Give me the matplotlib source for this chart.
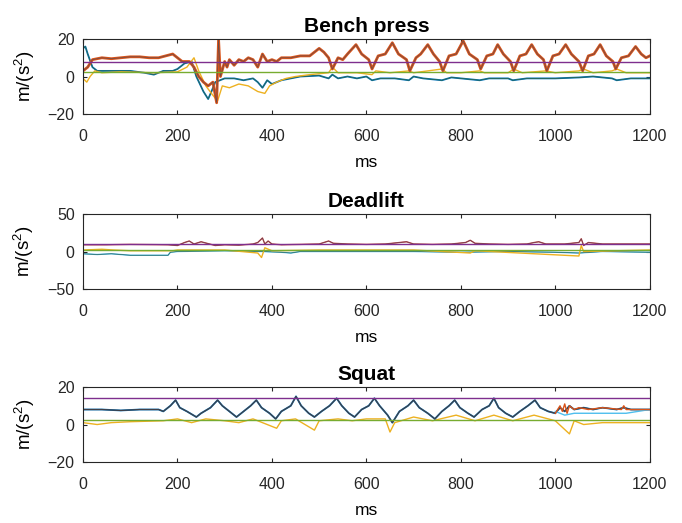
import matplotlib
matplotlib.use("Agg")
import matplotlib.pyplot as plt

plt.rcParams['font.family'] = ['Liberation Sans', 'DejaVu Sans']
plt.rcParams['mathtext.fontset'] = 'custom'
plt.rcParams['mathtext.rm'] = 'Liberation Sans'

# MATLAB default line colours
BLUE = (0.0, 0.447, 0.741)
ORANGE = (0.85, 0.325, 0.098)
YELLOW = (0.929, 0.694, 0.125)
PURPLE = (0.494, 0.184, 0.556)
GREEN = (0.466, 0.674, 0.188)
LIGHTBLUE = (0.301, 0.745, 0.933)

xticks = [0, 200, 400, 600, 800, 1000, 1200]

# ---- Bench press ----
bench_orange_t = [0, 10, 20, 40, 60, 80, 100, 120, 140, 160, 175, 190, 200, 210, 225, 235, 245, 255, 265,
                  275, 283, 287, 291, 300, 305, 310, 320, 330, 340, 350, 360, 370, 380, 390, 400, 410, 420,
                  440, 460, 480, 500, 510, 520, 528, 540, 550, 560, 578, 590, 605, 612, 625, 640, 655, 668,
                  685, 692, 705, 715, 730, 742, 755, 762, 775, 790, 805, 818, 835, 842, 855, 868, 878, 890,
                  905, 912, 925, 938, 950, 962, 975, 982, 995, 1008, 1022, 1034, 1050, 1058, 1070, 1082,
                  1095, 1108, 1122, 1128, 1140, 1155, 1170, 1182, 1192, 1200]
bench_orange = [3, 5, 9, 10, 9.5, 10, 10.5, 10.5, 10, 10, 11, 12, 10, 8, 8, 5, 0, -3, -5,
                -3, -14, 20, 0, 8, 5, 9, 6, 9, 8, 10, 9, 5, 12, 8, 9, 8, 10,
                10, 11, 11, 15, 13, 10, 4, 10, 9, 12, 17, 12, 9, 4, 11, 12, 18, 12,
                9, 3, 10, 12, 17, 12, 8, 3, 11, 12, 19, 12, 9, 4, 11, 12, 17, 12,
                8, 3, 11, 12, 17, 12, 9, 3, 11, 12, 17, 12, 8, 3, 11, 12,
                17, 11, 8, 4, 10, 11, 16, 12, 10, 11]

bench_blue_t = [0, 5, 10, 20, 30, 60, 100, 130, 150, 170, 190, 200, 215, 230, 240, 255, 265, 272, 280,
                290, 300, 320, 340, 360, 370, 380, 390, 400, 420, 440, 460, 500, 520, 528, 540, 560, 580,
                600, 612, 630, 660, 690, 700, 720, 760, 780, 800, 840, 860, 900, 910, 940, 980, 1000,
                1050, 1080, 1120, 1130, 1160, 1200]
bench_blue = [15, 16, 12, 5, 3, 3, 3, 2, 1, 3, 3, 4, 7, 8, 0, -8, -12, -8, -3,
              -2, -1, -1, -2, -1, -3, -6, -2, -4, -2, -1, 0, 0.5, -1, 1, -1, 0, -1,
              0, -2, -1, -1, -2, 0, -1, -2, -0.5, -1, -2, -1, -1, -2, -1, -1, -1,
              -0.5, 0, -1, -2, -1, -1]

bench_yellow_t = [0, 8, 15, 25, 40, 80, 150, 200, 220, 235, 245, 260, 275, 285, 295, 310, 330, 350, 370,
                  385, 395, 410, 430, 450, 480, 520, 528, 540, 580, 612, 620, 650, 690, 700, 760, 770, 800,
                  840, 850, 900, 912, 930, 980, 1000, 1050, 1060, 1080, 1120, 1130, 1150, 1200]
bench_yellow = [-1, -3, 0, 3, 2, 2.5, 2, 2.5, 5, 10, 3, -5, -10, -13, -5, -6, -4, -5, -8,
                -9, -5, -3, -1, 0, 1, 2, 5, 2, 2, 1, 3, 2, 3, 2, 4, 2, 2,
                3, 2, 2, 4, 2, 3, 2, 3, 4, 2, 3, 4, 2, 2]
bench_levels = [7.5, 2.5]

# ---- Deadlift ----
dead_red_t = [0, 50, 100, 180, 200, 215, 225, 235, 250, 262, 280, 300, 330, 360, 370, 380, 385, 392, 400,
              420, 460, 500, 520, 530, 560, 600, 640, 670, 685, 700, 740, 780, 810, 820, 830, 860, 900,
              940, 955, 965, 980, 1020, 1050, 1055, 1060, 1070, 1085, 1100, 1150, 1200]
dead_red = [9, 9, 9.5, 9, 8, 12, 14, 10, 13, 11, 8, 9, 8.5, 10, 12, 18, 10, 14, 10,
            9, 9.5, 10, 14, 11, 10, 9.5, 10, 12, 13, 10, 9.5, 10, 12, 15, 11, 10, 9.5,
            10, 12, 13, 10, 10, 12, 17, 8, 12, 11, 10, 10, 10]

dead_blue_t = [0, 30, 60, 100, 180, 185, 200, 300, 380, 420, 440, 460, 600, 700, 800, 900, 1000, 1050,
               1100, 1200]
dead_blue = [-3, -4, -3, -5, -5, -1, 0, 1, 0, -1, -2, 0, 0, 0, -1, 0, -1, -2,
             0, -1]

dead_yellow_t = [0, 40, 65, 100, 190, 200, 300, 370, 378, 385, 400, 500, 700, 820, 830, 1050, 1055, 1060,
                 1200]
dead_yellow = [2, 3, 2, 1, 1, 2, 2, -2, -8, 5, 1, 2, 2, -2, 1, -6, 8, 0,
               2]
dead_levels = [10.5, 2]

# ---- Squat ----
squat_main_t = [0, 40, 80, 120, 160, 170, 185, 196, 205, 220, 240, 250, 270, 285, 295, 310, 325, 340,
                355, 367, 378, 395, 408, 420, 440, 451, 462, 478, 490, 505, 522, 537, 548, 563, 575, 590,
                605, 617, 628, 645, 655, 670, 688, 700, 712, 730, 745, 760, 775, 787, 798, 815, 828, 845,
                860, 870, 880, 895, 910, 925, 942, 957, 968, 985, 1000, 1010, 1020, 1030, 1040, 1060,
                1080, 1100, 1130, 1145, 1160, 1200]
squat_main = [8, 8, 7.5, 8, 8, 7, 10, 13, 9, 7, 4, 6, 9, 13, 10, 7, 4, 7,
              10, 13, 9, 6, 3, 7, 10, 15, 10, 6, 4, 7, 10, 14, 10, 6, 4, 8,
              10, 14, 10, 5, 1, 7, 10, 13, 9, 6, 3, 7, 10, 13, 9, 6, 4, 8,
              10, 14, 9, 6, 4, 7, 10, 13, 9, 7, 6, 9, 7, 10, 8, 9,
              8, 9, 8, 9, 8, 8]

squat_orange_t = [1000, 1010, 1015, 1020, 1025, 1030, 1040, 1050, 1070, 1100, 1140, 1145, 1150, 1200]
squat_orange = [6, 10, 7, 11, 6, 10, 8, 9, 8, 9, 8, 10, 8, 8]

squat_cyan_t = [1000, 1020, 1040, 1100, 1150, 1200]
squat_cyan = [7, 5, 6, 6, 6, 8]

squat_yellow_t = [0, 30, 60, 100, 170, 200, 230, 260, 300, 330, 360, 410, 420, 450, 490, 500, 540, 570,
                  600, 640, 650, 660, 700, 740, 790, 830, 870, 910, 955, 1000, 1030, 1040, 1060, 1100,
                  1200]
squat_yellow = [1, 0, 1, 1.5, 2, 3, 1, 3, 2, 1, 3, -2, 2, 3, -3, 2, 3, 2,
                3, 3, -4, 1, 4, 2, 5, 2, 5, 2, 5, 2, -5, 2, 0, 1,
                1]
squat_levels = [14, 2.2]


def style_axes(ax, title, ylim, yticks):
    ax.set_xlim(0, 1200)
    ax.set_ylim(ylim)
    ax.set_xticks(xticks)
    ax.set_yticks(yticks)
    ax.set_title(title, fontsize=15, fontweight='bold', pad=5)
    ax.set_xlabel('ms', fontsize=12.5, labelpad=8)
    ax.set_ylabel('m/(s$^2$)', fontsize=13.5, labelpad=8)
    ax.tick_params(direction='in', top=True, right=True, length=3,
                   labelsize=11.5, colors=(0.15, 0.15, 0.15), pad=11)
    ax.tick_params(axis='y', pad=6)
    for s in ax.spines.values():
        s.set_color((0.15, 0.15, 0.15))
        s.set_linewidth(0.8)


fig = plt.figure(figsize=(6.82, 5.23), dpi=100)
ax1 = fig.add_axes([0.1217, 0.782, 0.831, 0.1434])
ax2 = fig.add_axes([0.1217, 0.4474, 0.831, 0.1434])
ax3 = fig.add_axes([0.1217, 0.1166, 0.831, 0.1434])

# bench press
ax1.plot(bench_blue_t, bench_blue, color=BLUE, lw=1.3)
ax1.plot(bench_blue_t, bench_blue, color=(0.2, 0.4, 0.25), lw=0.5)
ax1.plot(bench_yellow_t, bench_yellow, color=YELLOW, lw=1.0)
ax1.plot(bench_orange_t, bench_orange, color=ORANGE, lw=2.0)
ax1.plot(bench_orange_t, bench_orange, color=(0.4, 0.3, 0.3), lw=0.5)
ax1.axhline(bench_levels[0], color=PURPLE, lw=1.0)
ax1.axhline(bench_levels[1], color=GREEN, lw=1.0)
style_axes(ax1, 'Bench press', (-20, 20), [-20, 0, 20])

# deadlift
ax2.plot(dead_blue_t, dead_blue, color=LIGHTBLUE, lw=1.0)
ax2.plot(dead_blue_t, dead_blue, color=(0.2, 0.4, 0.35), lw=0.5)
ax2.plot(dead_yellow_t, dead_yellow, color=YELLOW, lw=1.0)
ax2.plot(dead_red_t, dead_red, color=(0.8, 0.3, 0.3), lw=1.0)
ax2.plot(dead_red_t, dead_red, color=(0.4, 0.25, 0.3), lw=0.5)
ax2.axhline(dead_levels[0], color=PURPLE, lw=1.0)
ax2.axhline(dead_levels[1], color=GREEN, lw=1.0)
style_axes(ax2, 'Deadlift', (-50, 50), [-50, 0, 50])

# squat
ax3.plot(squat_yellow_t, squat_yellow, color=YELLOW, lw=1.0)
ax3.plot(squat_main_t, squat_main, color=BLUE, lw=1.3)
ax3.plot(squat_main_t, squat_main, color=(0.25, 0.25, 0.28), lw=0.9)
ax3.plot(squat_cyan_t, squat_cyan, color=LIGHTBLUE, lw=1.0)
ax3.plot(squat_orange_t, squat_orange, color=ORANGE, lw=1.0)
ax3.axhline(squat_levels[0], color=PURPLE, lw=1.0)
ax3.axhline(squat_levels[1], color=GREEN, lw=1.0)
style_axes(ax3, 'Squat', (-20, 20), [-20, 0, 20])

fig.savefig('out.png', dpi=100)
